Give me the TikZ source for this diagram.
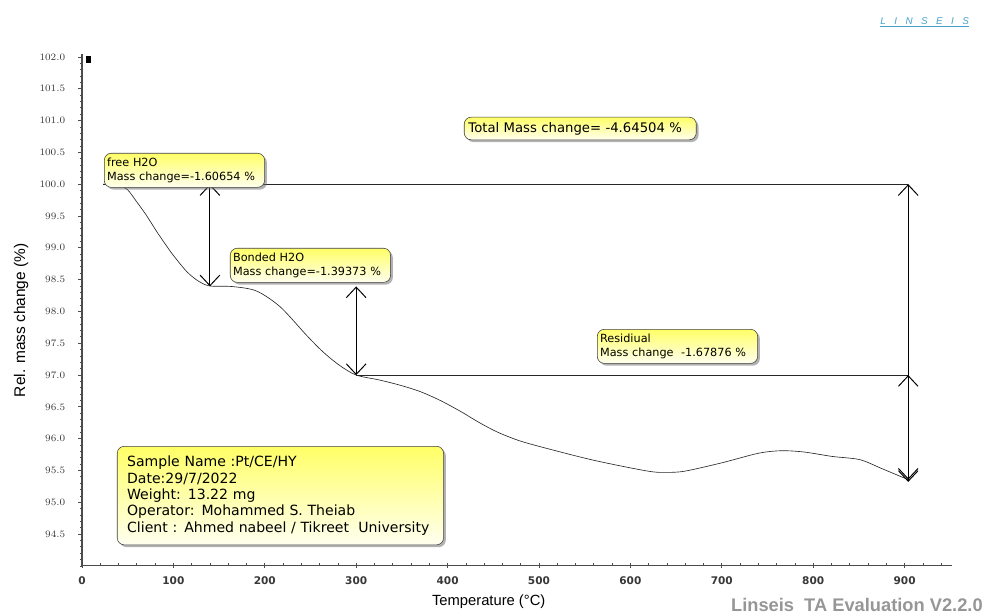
\documentclass[tikz,border=0pt]{standalone}
\usepackage{fontspec}
\setmainfont{DejaVu Sans}
\newfontfamily\axisfont{Liberation Sans}
\usepackage{xcolor}
\usepackage{tikz}
\usetikzlibrary{arrows,arrows.meta,shadows}
\definecolor{logoblue}{RGB}{70,160,205}
\definecolor{labelgray}{RGB}{55,55,55}
\definecolor{brandgray}{RGB}{150,150,150}
\tikzset{>={Straight Barb[length=7.5pt,width=14pt]}}
\tikzstyle{notebox} = [draw=black!75,rounded corners=5pt,top color=yellow!60,bottom color=yellow!6,drop shadow={shadow xshift=1.6pt,shadow yshift=-1.6pt,fill=black!60},align=left,anchor=north west]
\tikzstyle{dimarrow} = [<->,line width=0.7pt]
\tikzstyle{refline} = [line width=0.7pt,black!85]
\tikzstyle{tgacurve} = [line width=0.45pt,black!85]
\tikzstyle{axisline} = [line width=0.8pt,black!70]
\tikzstyle{tickline} = [line width=0.5pt,black!70]
\tikzstyle{ticklabel} = [font=\bfseries\fontsize{7.5}{9}\selectfont,text=labelgray,inner sep=1pt]
\newcommand{\logogap}{\hspace{6pt}}

\begin{document}
\begin{tikzpicture}[x=0.02285cm,y=1.59cm]
    \useasboundingbox (-89.7,93.242) rectangle (986.9,102.896);
    % axes
    \draw[axisline] (0,94) -- (0,102.05);
    \draw[axisline] (0,94) -- (952,94);
    \foreach \v in {94.0,94.1,...,102.05} \draw[tickline] (0,\v) -- (-2.2,\v);
    \foreach \v [count=\i] in {94.5,95.0,...,102.0} {
        \draw[tickline] (0,\v) -- (-4.4,\v);
        \node[ticklabel,anchor=east] (ytick\i) at (-16.4,\v) {\pgfmathprintnumber[fixed,fixed zerofill,precision=1]{\v}};
    }
    \foreach \t in {0,20,...,940} \draw[tickline] (\t,94) -- (\t,94.04);
    \foreach \t [count=\i] in {0,100,...,900} {
        \draw[tickline] (\t,93.96) -- (\t,94.04);
        \node[ticklabel] (xtick\i) at (\t,93.77) {\t};
    }
    \fill (4.4,102.02) rectangle (9.8,101.9);
    \node[rotate=90,font=\axisfont\fontsize{11}{13}\selectfont] (ylab) at (-66.7,97.86) {Rel. mass change (\%)};
    \node[font=\axisfont\fontsize{10.5}{12}\selectfont] (xlab) at (445,93.43) {Temperature (°C)};
    \node[anchor=base east,inner sep=0pt,font=\axisfont\bfseries\fontsize{13}{15}\selectfont,text=brandgray] (brand) at (985.8,93.29) {Linseis\ \ TA Evaluation V2.2.0};
    \node[font=\axisfont\itshape\fontsize{7}{8}\selectfont,text=logoblue,inner sep=0pt] (logo) at (922,102.57) {L\logogap I\logogap N\logogap S\logogap E\logogap I\logogap S};
    \draw[logoblue,line width=0.4pt] ([yshift=-1.5pt]logo.south west) -- ([yshift=-1.5pt]logo.south east);
    % curve
    \draw[tgacurve] plot[smooth] coordinates {(23,100.0) (40,99.99) (50,99.91) (60,99.72) (70,99.52) (82,99.25) (92,99.04) (100,98.88) (115,98.62) (128,98.47) (140,98.40) (165,98.39) (191,98.32) (217,98.07) (246,97.62) (264,97.36) (282,97.15) (300,97.0) (326,96.92) (348,96.84) (370,96.74) (392,96.60) (414,96.43) (435,96.25) (455,96.10) (478,95.97) (505,95.86) (560,95.66) (619,95.49) (640,95.47) (660,95.49) (700,95.62) (740,95.77) (765,95.81) (790,95.79) (821,95.72) (851,95.67) (875,95.53) (904,95.355)};
    % steps
    \coordinate (start) at (23,100);
    \coordinate (f0) at (140,100);
    \coordinate (f1) at (140,98.393);
    \coordinate (b0) at (300,98.393);
    \coordinate (b1) at (300,96.999);
    \coordinate (t0) at (904,100);
    \coordinate (t1) at (904,95.355);
    \coordinate (r0) at (904,96.999);
    \coordinate (r1) at (904,95.32);
    \draw[refline] (start) -- (t0);
    \draw[refline] (b1) -- (r0);
    \draw[dimarrow] (f0) -- (f1);
    \draw[dimarrow] (b0) -- (b1);
    \draw[dimarrow] (t0) -- (t1);
    \draw[dimarrow] (r0) -- (r1);
    % labels
    \node[notebox,text width=110pt,inner xsep=2pt,inner ysep=3.5pt,font=\fontsize{8}{9.5}\selectfont] (free) at (24.1,100.49) {free H2O\\Mass change=-1.60654 \%};
    \node[notebox,text width=110pt,inner xsep=2pt,inner ysep=3.5pt,font=\fontsize{8}{9.5}\selectfont] (bond) at (161.9,98.997) {Bonded H2O\\Mass change=-1.39373 \%};
    \node[notebox,text width=110pt,inner xsep=2pt,inner ysep=3.5pt,font=\fontsize{8}{9.5}\selectfont] (resid) at (563.5,97.723) {Residiual\\Mass change\ \ -1.67876 \%};
    \node[notebox,text width=159pt,inner xsep=3pt,inner ysep=3.5pt,font=\fontsize{9.4}{11}\selectfont] (total) at (417.9,101.057) {Total Mass change= -4.64504 \%};
    \node[notebox,text width=218pt,inner sep=7pt,font=\fontsize{10}{11.6}\selectfont] (sample) at (38.3,95.884) {Sample Name :Pt/CE/HY\\Date:29/7/2022\\Weight: 13.22 mg\\Operator: Mohammed S. Theiab\\Client : Ahmed nabeel / Tikreet\ \ University};
\end{tikzpicture}
\end{document}
